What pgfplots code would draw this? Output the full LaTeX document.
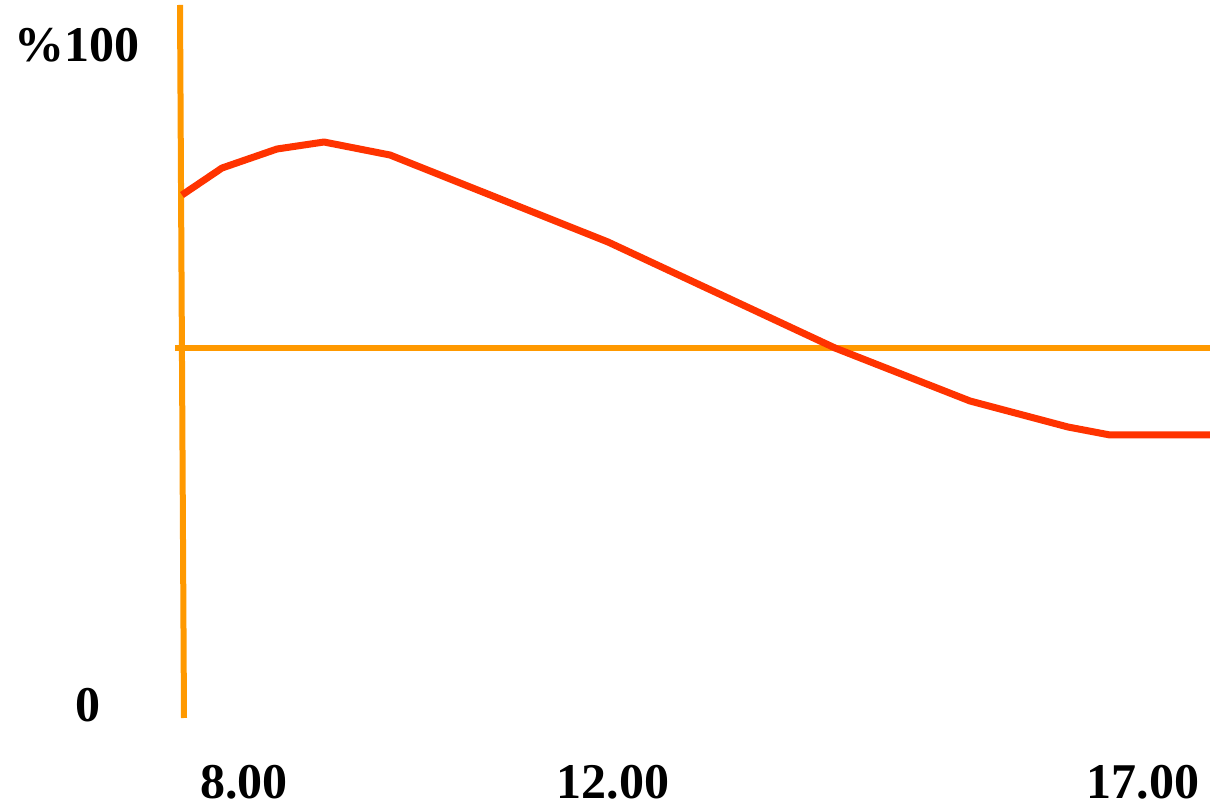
\documentclass[border=0pt]{standalone}
\usepackage{pgfplots}
\pgfplotsset{compat=1.18}
\usepackage{fontspec}
\setmainfont{Liberation Serif}

\definecolor{axisorange}{HTML}{FF9900}
\definecolor{curvered}{HTML}{FF3300}

\begin{document}
\begin{tikzpicture}
  \begin{axis}[
    x=100bp, y=6.6bp,
    xmin=5.59, xmax=17.69,
    ymin=-15.758, ymax=106.818,
    axis line style={draw=none},
    tick style={draw=none},
    clip=false,
    xtick={8.03,11.72,17.02},
    xticklabels={8.00,12.00,17.00},
    ytick={0,100},
    yticklabels={\hspace*{22bp}0,\%100},
    ticklabel style={font=\fontsize{50bp}{58bp}\selectfont\bfseries, inner sep=0pt},
    xticklabel style={anchor=center, yshift=27bp},
    yticklabel style={anchor=center, xshift=77bp},
  ]
    % axes drawn as orange strokes
    \addplot[axisorange, line width=6bp, mark=none] coordinates {(7.39,106.06) (7.43,-1.97)};
    \addplot[axisorange, line width=6bp, mark=none] coordinates {(7.34,54.09) (17.69,54.09)};

    % course over the day
    \addplot[curvered, line width=7bp, mark=none, line join=round] coordinates {
      (7.41,77.27) (7.81,81.36) (8.36,84.24) (8.83,85.30) (9.49,83.33)
      (11.67,70.15) (13.94,54.09) (15.29,46.06) (16.27,42.12) (16.69,40.91)
      (17.69,40.91)
    };
  \end{axis}
  \pgfresetboundingbox
  \path[use as bounding box] (0,0) rectangle (1210bp,809bp);
\end{tikzpicture}
\end{document}
